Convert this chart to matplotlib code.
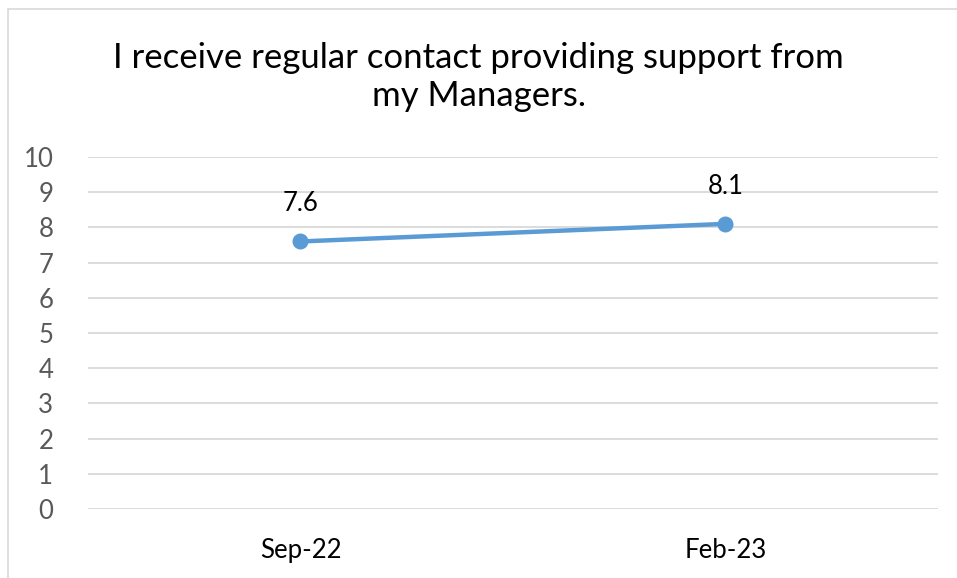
import matplotlib.pyplot as plt
from matplotlib.patches import Rectangle

# survey results
periods = ["Sep-22", "Feb-23"]
scores = [7.6, 8.1]
y_ticks = list(range(0, 11))
title = "I receive regular contact providing support from\nmy Managers."

plt.rcParams['font.family'] = ['Lato', 'DejaVu Sans']

fig = plt.figure(figsize=(9.57, 5.78), dpi=100)
ax = fig.add_axes([0.092, 0.1194, 0.888, 0.609])

# chart border (Excel-style frame, runs off the right/bottom edge)
fig.patches.append(Rectangle((8 / 957, -0.05), 1.0, 1 - 9 / 578 + 0.05,
                             transform=fig.transFigure, fill=False,
                             edgecolor='#d9d9d9', linewidth=1.2))

x = list(range(len(periods)))
ax.plot(x, scores, color='#5B9BD5', linewidth=3.2, marker='o',
        markersize=10.5, zorder=3, solid_capstyle='round')
for xi, v in zip(x, scores):
    ax.annotate(f"{v}", (xi, v), xytext=(0, 18), textcoords='offset points',
                ha='center', va='bottom', fontsize=18.5, color='#000000')

ax.set_xlim(-0.5, len(periods) - 0.5)
ax.set_ylim(0, 10)
ax.set_yticks(y_ticks)
ax.set_xticks(x)
ax.set_xticklabels(periods)
ax.tick_params(axis='both', length=0, labelsize=18.5, colors='#595959')
ax.tick_params(axis='y', pad=25)
ax.tick_params(axis='x', pad=21)
for lbl in ax.get_xticklabels():
    lbl.set_color('#000000')
ax.grid(axis='y', color='#d9d9d9', linewidth=1.3)
ax.set_axisbelow(True)
for s in ax.spines.values():
    s.set_visible(False)

fig.text(0.5, 0.867, title, ha='center', va='center', fontsize=25,
         color='#000000', linespacing=1.22)

fig.savefig('out.png', dpi=100)
